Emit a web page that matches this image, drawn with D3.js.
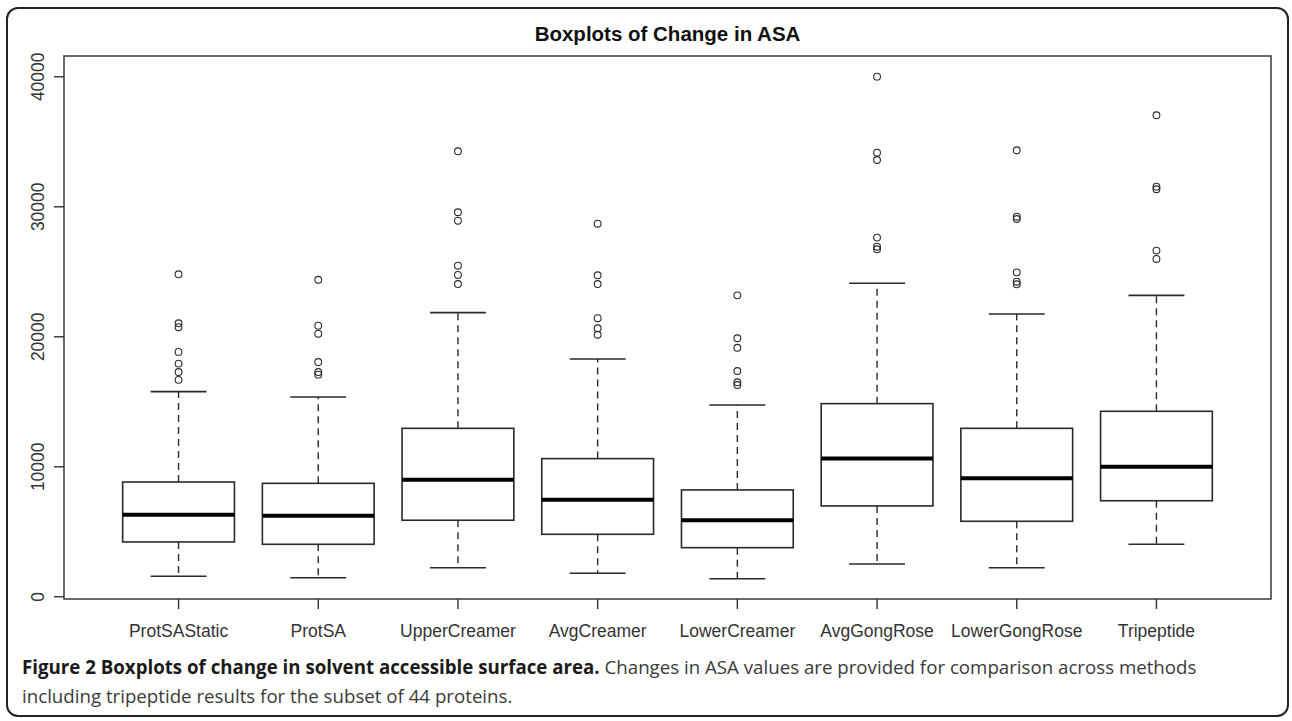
<!DOCTYPE html>
<html>
<head>
<meta charset="utf-8">
<script src="https://cdn.jsdelivr.net/npm/d3@7"></script>
<style>
  html, body { margin: 0; padding: 0; background: #fff; }
  svg { display: block; }
</style>
</head>
<body>
<svg id="chart" width="1292" height="721"></svg>
<script>
// ---- data ----
const categories = ["ProtSAStatic", "ProtSA", "UpperCreamer", "AvgCreamer", "LowerCreamer", "AvgGongRose", "LowerGongRose", "Tripeptide"];
const whiskerLow  = [1540, 1430, 2200, 1770, 1350, 2480, 2200, 4000];
const q1          = [4180, 4000, 5850, 4770, 3740, 6950, 5770, 7350];
const medians     = [6280, 6200, 8970, 7430, 5850, 10590, 9080, 9970];
const q3          = [8790, 8690, 12920, 10590, 8180, 14820, 12920, 14230];
const whiskerHigh = [15740, 15330, 21820, 18250, 14720, 24080, 21720, 23150];
const outliers = [
  [24770, 21000, 20700, 18800, 17900, 17250, 16650],
  [24350, 20820, 20200, 18020, 17250, 17050],
  [34230, 29540, 28890, 25430, 24720, 24020],
  [28660, 24690, 24020, 21390, 20620, 20120],
  [23150, 19850, 19120, 17330, 16460, 16250],
  [39970, 34120, 33560, 27590, 26890, 26690],
  [34310, 29200, 29020, 24920, 24200, 24000],
  [37000, 31510, 31310, 26590, 25950]
];
const yTicks = [0, 10000, 20000, 30000, 40000];
const titleText = "Boxplots of Change in ASA";
const captionBold = "Figure 2 Boxplots of change in solvent accessible surface area.";
const captionRest1 = " Changes in ASA values are provided for comparison across methods";
const captionLine2 = "including tripeptide results for the subset of 44 proteins.";

// ---- layout ----
const svg = d3.select("#chart");
const plot = { left: 64, right: 1271, top: 56, bottom: 599 };

// outer rounded border
svg.append("rect")
  .attr("x", 7).attr("y", 8).attr("width", 1281).attr("height", 708)
  .attr("rx", 11).attr("ry", 11)
  .attr("fill", "none").attr("stroke", "#222").attr("stroke-width", 2);

const x = d3.scaleBand()
  .domain(categories)
  .range([plot.left, plot.right])
  .paddingInner(0)
  .paddingOuter(0.32);

const y = d3.scaleLinear()
  .domain([-208, 41560])
  .range([plot.bottom, plot.top]);

const step = x.step();
const boxW = step * 0.8;
const capW = boxW / 2;
const cx = c => x(c) + x.bandwidth() / 2;

const ink = "#2a2a2a";

// boxes
const g = svg.append("g");
categories.forEach((c, i) => {
  const xc = cx(c);
  // whiskers (dashed)
  g.append("line")
    .attr("x1", xc).attr("x2", xc)
    .attr("y1", y(q3[i])).attr("y2", y(whiskerHigh[i]))
    .attr("stroke", ink).attr("stroke-width", 1.4).attr("stroke-dasharray", "7,5");
  g.append("line")
    .attr("x1", xc).attr("x2", xc)
    .attr("y1", y(q1[i])).attr("y2", y(whiskerLow[i]))
    .attr("stroke", ink).attr("stroke-width", 1.4).attr("stroke-dasharray", "7,5");
  // caps
  [whiskerHigh[i], whiskerLow[i]].forEach(v => {
    g.append("line")
      .attr("x1", xc - capW / 2).attr("x2", xc + capW / 2)
      .attr("y1", y(v)).attr("y2", y(v))
      .attr("stroke", ink).attr("stroke-width", 1.6);
  });
  // box
  g.append("rect")
    .attr("x", xc - boxW / 2).attr("width", boxW)
    .attr("y", y(q3[i])).attr("height", y(q1[i]) - y(q3[i]))
    .attr("fill", "#fff").attr("stroke", ink).attr("stroke-width", 1.6);
  // median
  g.append("line")
    .attr("x1", xc - boxW / 2).attr("x2", xc + boxW / 2)
    .attr("y1", y(medians[i])).attr("y2", y(medians[i]))
    .attr("stroke", "#000").attr("stroke-width", 4);
  // outliers
  g.selectAll(null).data(outliers[i]).enter().append("circle")
    .attr("cx", xc).attr("cy", d => y(d)).attr("r", 3.4)
    .attr("fill", "none").attr("stroke", ink).attr("stroke-width", 1.1);
});

// plot frame
svg.append("rect")
  .attr("x", plot.left).attr("y", plot.top)
  .attr("width", plot.right - plot.left).attr("height", plot.bottom - plot.top)
  .attr("fill", "none").attr("stroke", "#444").attr("stroke-width", 1.6);

// y axis
const yAxis = svg.append("g")
  .attr("transform", `translate(${plot.left},0)`)
  .call(d3.axisLeft(y).tickValues(yTicks).tickSize(10).tickFormat(d3.format("d")));
yAxis.select(".domain").remove();
yAxis.selectAll(".tick line").attr("stroke", "#333").attr("stroke-width", 1.4);
yAxis.selectAll(".tick text")
  .attr("x", null).attr("dy", null).attr("y", null)
  .attr("transform", "translate(-20,0) rotate(-90)")
  .attr("text-anchor", "middle")
  .attr("fill", "#333")
  .style("font-family", "'Liberation Sans', Arial, sans-serif")
  .style("font-size", "17.5px");

// x axis
const xAxis = svg.append("g")
  .attr("transform", `translate(0,${plot.bottom})`)
  .call(d3.axisBottom(x).tickSize(10));
xAxis.select(".domain").remove();
xAxis.selectAll(".tick line").attr("stroke", "#333").attr("stroke-width", 1.4);
xAxis.selectAll(".tick text")
  .attr("y", 38).attr("dy", null)
  .attr("fill", "#333")
  .style("font-family", "'Liberation Sans', Arial, sans-serif")
  .style("font-size", "17.5px");

// title
svg.append("text")
  .attr("x", (plot.left + plot.right) / 2).attr("y", 41)
  .attr("text-anchor", "middle")
  .attr("fill", "#111")
  .style("font-family", "'Liberation Sans', Arial, sans-serif")
  .style("font-weight", "bold")
  .style("font-size", "20.5px")
  .text(titleText);

// caption
const capFont = "'Open Sans', 'Noto Sans', sans-serif";
const cap1 = svg.append("text").attr("x", 22).attr("y", 674)
  .style("font-family", capFont).style("font-size", "20px");
cap1.append("tspan").style("font-weight", "bold").attr("fill", "#1a1a1a").text(captionBold);
cap1.append("tspan").attr("fill", "#3a3a3a").text(captionRest1);
const cap2 = svg.append("text").attr("x", 22).attr("y", 703)
  .style("font-family", capFont).style("font-size", "20px")
  .attr("fill", "#3a3a3a").text(captionLine2);
// fit first line to the reference width
const target = 1197 - 22;
const len = cap1.node().getComputedTextLength();
const fs = 20 * target / len;
cap1.style("font-size", fs + "px");
cap2.style("font-size", fs + "px");
</script>
</body>
</html>
